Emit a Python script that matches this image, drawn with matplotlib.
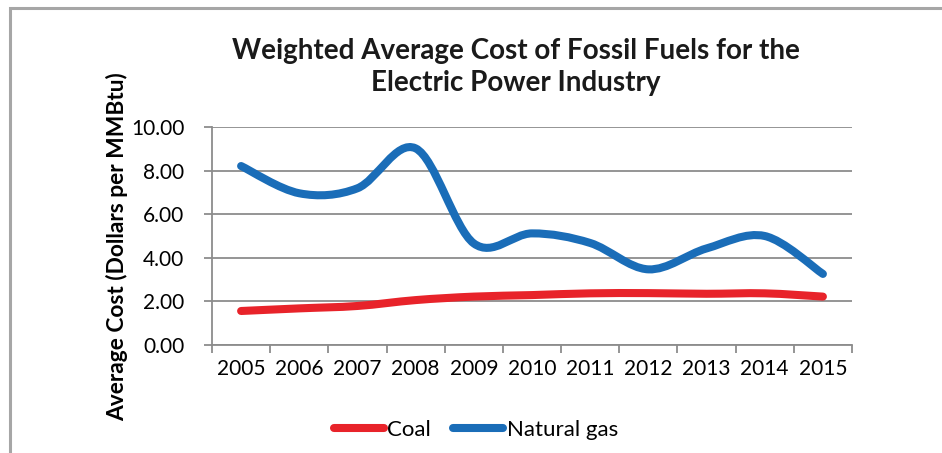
import matplotlib
matplotlib.use("Agg")
import matplotlib.pyplot as plt
from matplotlib.path import Path
from matplotlib.patches import PathPatch, Rectangle
from matplotlib.lines import Line2D
import numpy as np

years = ["2005", "2006", "2007", "2008", "2009", "2010", "2011", "2012", "2013", "2014", "2015"]
coal = [1.56, 1.68, 1.79, 2.06, 2.22, 2.29, 2.37, 2.38, 2.35, 2.37, 2.22]
natural_gas = [8.21, 6.96, 7.19, 9.02, 4.66, 5.12, 4.68, 3.47, 4.43, 5.00, 3.26]
y_ticks = [0, 2, 4, 6, 8, 10]

TITLE_FONT = "Lato"
BODY_FONT = "Lato"

fig = plt.figure(figsize=(9.42, 4.53), dpi=100)
ax = fig.add_axes([212/942, 1-345/453, (852-212)/942, (345-127)/453])

# outer frame
fig.patches.append(Rectangle((10/942, -0.1), 1.2, 1 - 8/453 + 0.1, transform=fig.transFigure,
                             fill=False, edgecolor="#a6a6a6", linewidth=2.2))


def smooth_path(xs, ys):
    pts = np.column_stack([xs, ys]).astype(float)
    n = len(pts)
    verts = [pts[0]]
    codes = [Path.MOVETO]
    for i in range(n - 1):
        p0 = pts[i - 1] if i > 0 else pts[i]
        p1 = pts[i]
        p2 = pts[i + 1]
        p3 = pts[i + 2] if i + 2 < n else pts[i + 1]
        c1 = p1 + (p2 - p0) / 6.0
        c2 = p2 - (p3 - p1) / 6.0
        verts += [c1, c2, p2]
        codes += [Path.CURVE4] * 3
    return Path(verts, codes)


x = np.arange(len(years))
coal_color = "#e8232a"
gas_color = "#1a6db8"
for series, color in [(coal, coal_color), (natural_gas, gas_color)]:
    ax.add_patch(PathPatch(smooth_path(x, series), fill=False, edgecolor=color,
                           linewidth=5.8, capstyle="round", joinstyle="round", zorder=3))

ax.set_xlim(-0.5, len(years) - 0.5)
ax.set_ylim(0, 10)
ax.set_yticks(y_ticks)
ax.set_yticklabels([f"{v:.2f}" for v in y_ticks], fontsize=15, family=BODY_FONT)
ax.set_xticks(x)
ax.set_xticklabels(years, fontsize=15, family=BODY_FONT)
ax.set_xticks(np.arange(-0.5, len(years), 1.0), minor=True)
ax.tick_params(axis="x", which="major", length=0, pad=10)
ax.tick_params(axis="x", which="minor", length=6, color="#8c8c8c", width=1.3)
ax.tick_params(axis="y", length=6, color="#8c8c8c", width=1.3, pad=14)
ax.grid(axis="y", color="#8c8c8c", linewidth=1.3)
ax.set_axisbelow(True)
for s in ["top", "right"]:
    ax.spines[s].set_visible(False)
for s in ["left", "bottom"]:
    ax.spines[s].set_color("#8c8c8c")
    ax.spines[s].set_linewidth(1.3)

ax.set_ylabel("Average Cost (Dollars per MMBtu)", fontsize=16.4, fontweight="bold",
              family=TITLE_FONT, va="center")
ax.yaxis.set_label_coords(-0.148, 0.452)

fig.text(516/942, 1-67/453, "Weighted Average Cost of Fossil Fuels for the\nElectric Power Industry",
         ha="center", va="center", fontsize=20, fontweight="bold", family=TITLE_FONT,
         linespacing=1.3, color="#1a1a1a")

handles = [Line2D([], [], color=coal_color, linewidth=5.8, solid_capstyle="round"),
           Line2D([], [], color=gas_color, linewidth=5.8, solid_capstyle="round")]
fig.legend(handles, ["Coal", "Natural gas"], loc="center", bbox_to_anchor=(476/942, 1-430/453),
           ncol=2, frameon=False, prop={"family": BODY_FONT, "size": 16},
           handlelength=2.25, handletextpad=0.15, columnspacing=1.0)

fig.savefig("out.png", dpi=100)
